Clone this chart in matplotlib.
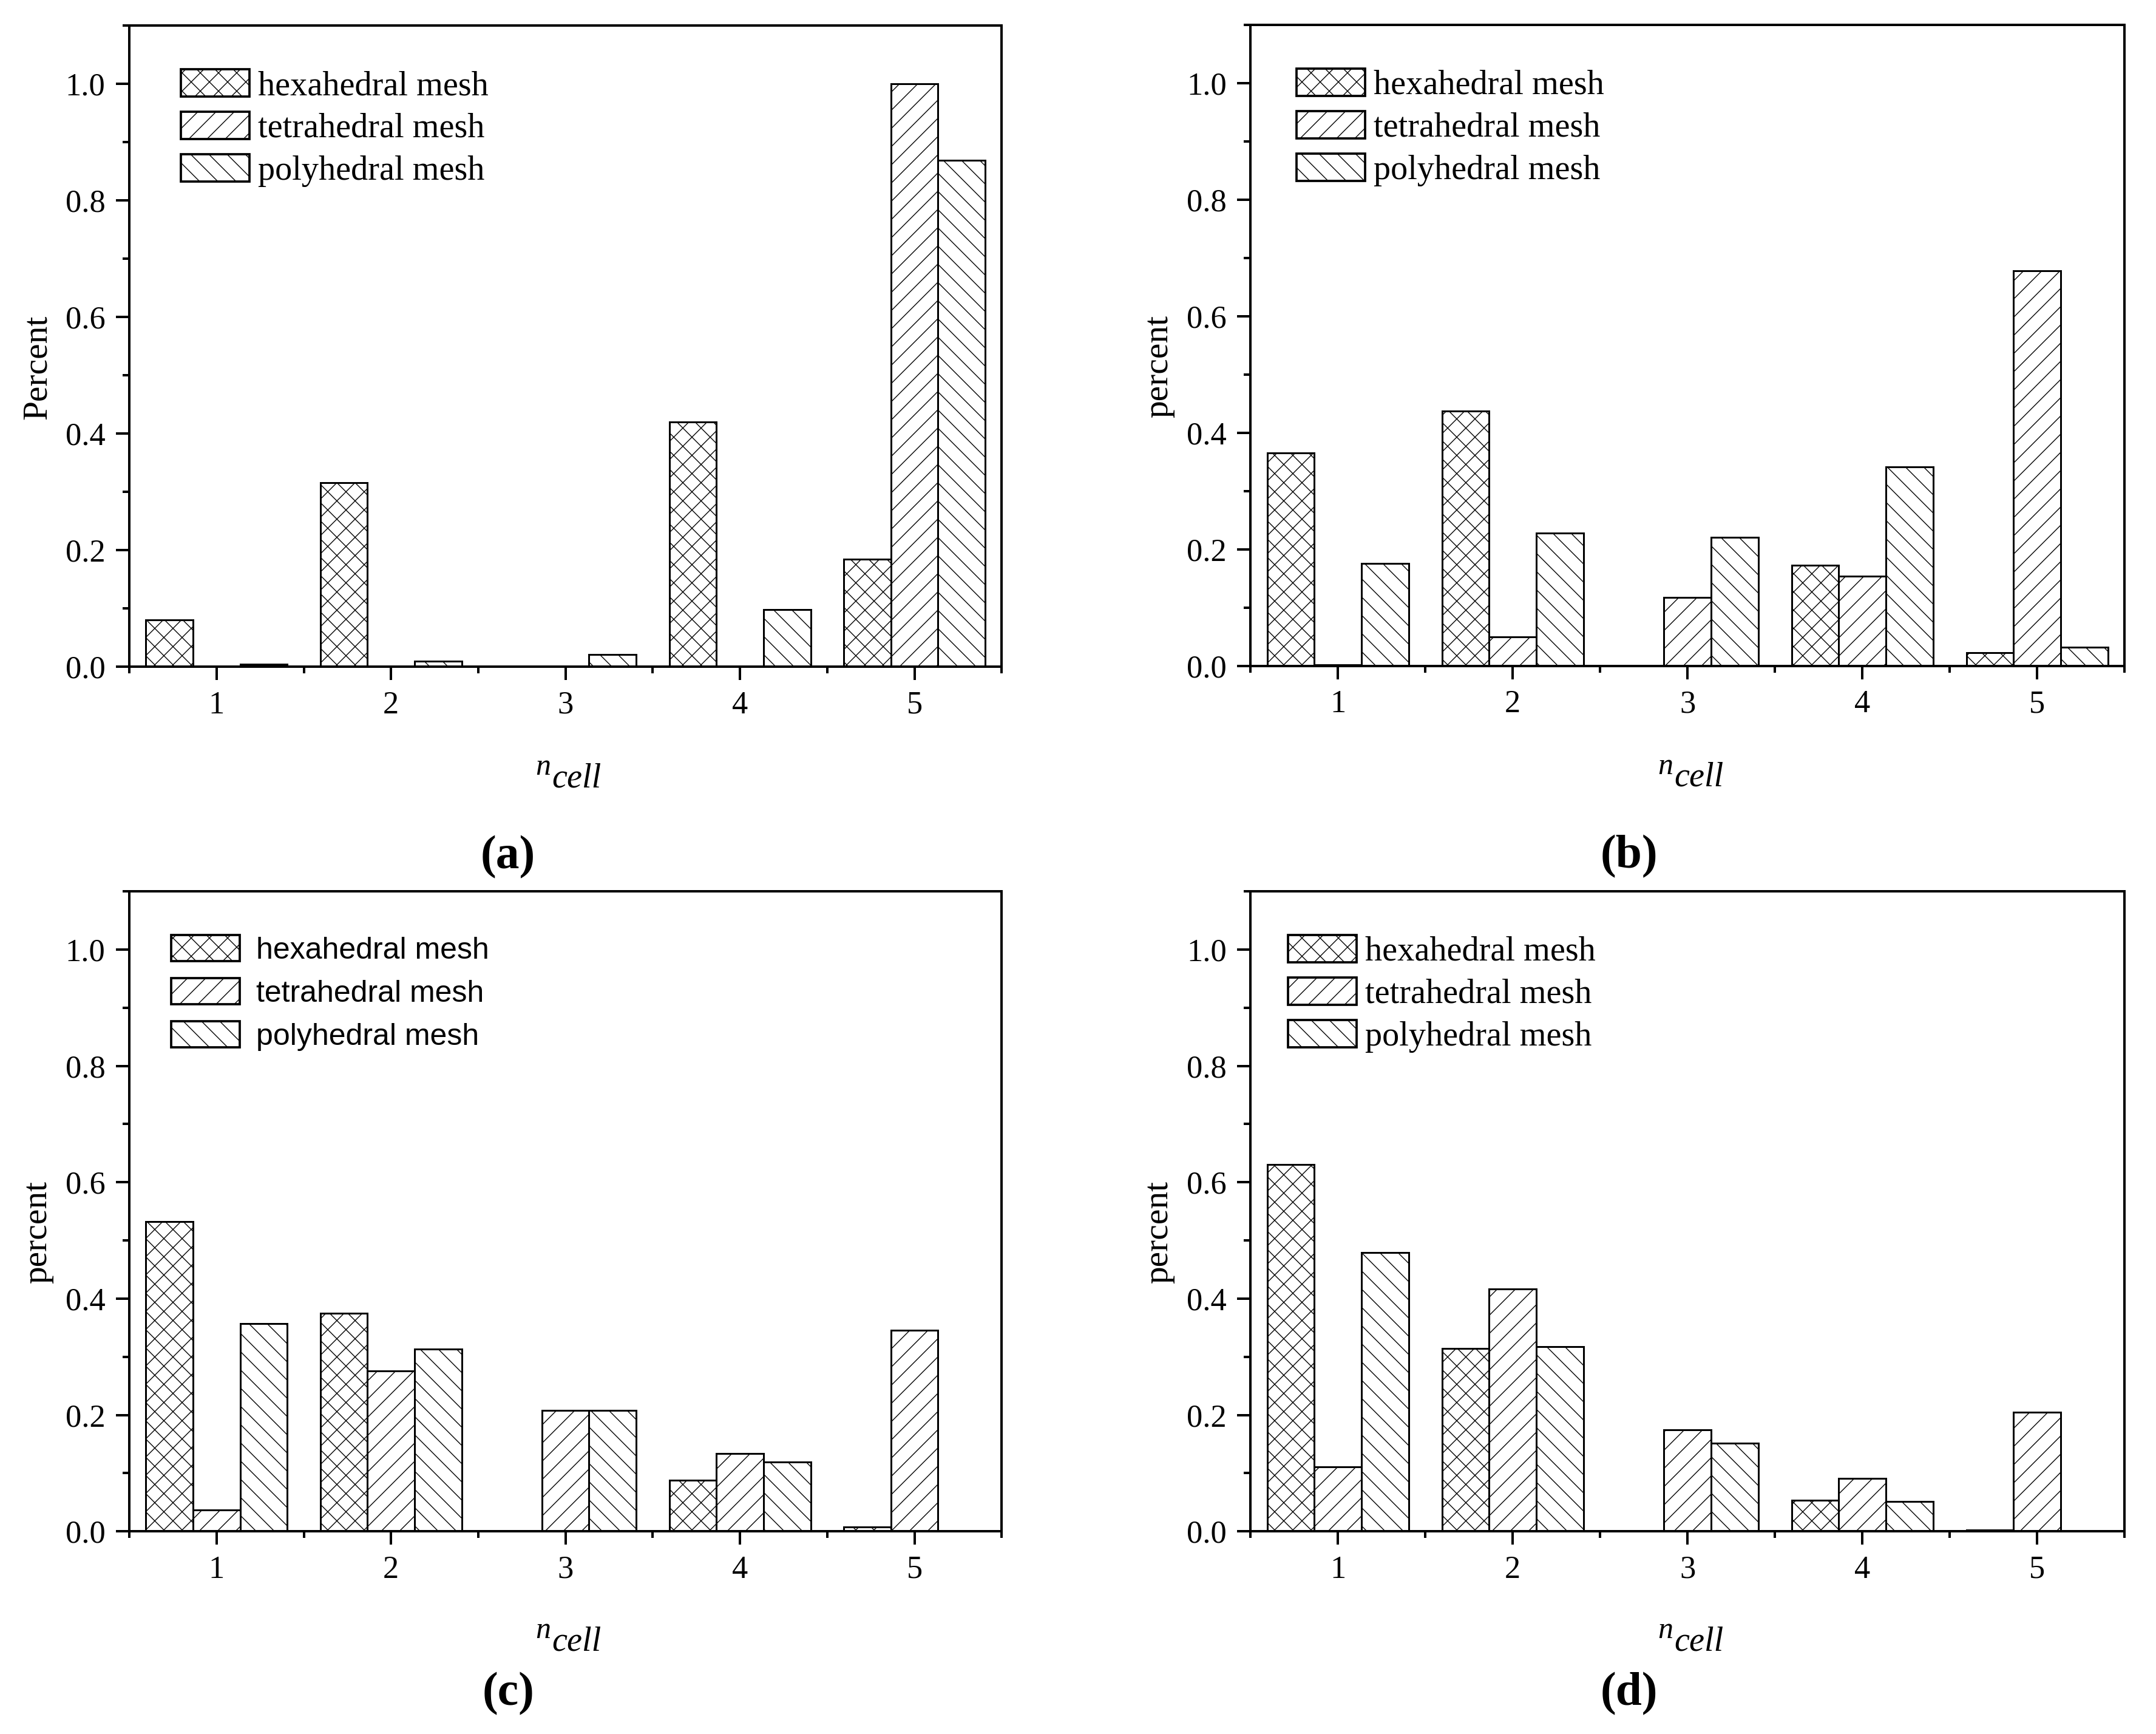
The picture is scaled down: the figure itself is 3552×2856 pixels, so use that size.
# Distribution of n_cell for three mesh types, four cases (a)-(d)

import numpy as np
import matplotlib.pyplot as plt
from matplotlib.ticker import MultipleLocator, FormatStrFormatter

plt.rcParams['font.family'] = ['Liberation Serif', 'DejaVu Serif']
plt.rcParams['hatch.linewidth'] = 0.55

# Data
ncell = np.array([1, 2, 3, 4, 5])
mesh_names = ['hexahedral mesh', 'tetrahedral mesh', 'polyhedral mesh']

a_hex = [0.080, 0.316, 0.0, 0.420, 0.185]
a_tet = [0.0, 0.0, 0.0, 0.0, 1.0]
a_poly = [0.004, 0.010, 0.021, 0.098, 0.869]

b_hex = [0.366, 0.438, 0.0, 0.173, 0.023]
b_tet = [0.002, 0.050, 0.118, 0.154, 0.678]
b_poly = [0.176, 0.228, 0.221, 0.342, 0.032]

c_hex = [0.532, 0.375, 0.0, 0.088, 0.007]
c_tet = [0.037, 0.276, 0.208, 0.134, 0.346]
c_poly = [0.357, 0.313, 0.208, 0.119, 0.0]

d_hex = [0.631, 0.314, 0.0, 0.053, 0.002]
d_tet = [0.111, 0.417, 0.174, 0.091, 0.205]
d_poly = [0.479, 0.317, 0.152, 0.051, 0.0]

# tag, ylabel, series, legend font, axes rect, legend x, legend size, text pad (px), row gap (px)
panels = [
    ('(a)', 'Percent', [a_hex, a_tet, a_poly], 'Liberation Serif', [0.06, 0.6155, 0.4046, 0.3697], 0.059, 22.5, 14, 16),
    ('(b)', 'percent', [b_hex, b_tet, b_poly], 'Liberation Serif', [0.58, 0.6159, 0.4054, 0.3697], 0.053, 22.5, 14, 16),
    ('(c)', 'percent', [c_hex, c_tet, c_poly], 'Liberation Sans', [0.06, 0.1169, 0.4046, 0.369], 0.048, 20, 27, 22),
    ('(d)', 'percent', [d_hex, d_tet, d_poly], 'Liberation Serif', [0.58, 0.1169, 0.4054, 0.369], 0.043, 22.5, 14, 16),
]

hatches = ['xx', '//', '\\\\']
width = 0.27
offsets = [-width, 0.0, width]

fig = plt.figure(figsize=(3552/180, 2856/180), dpi=180, facecolor='white')

for k, (tag, ylab, series, legfont, rect, legx, legsize, tpad, rgap) in enumerate(panels):
    ax = fig.add_axes(rect)
    for vals, h, off, name in zip(series, hatches, offsets, mesh_names):
        ax.bar(ncell + off, vals, width, color='white', edgecolor='black',
               linewidth=1.2, hatch=h, label=name)

    ax.set_xlim(0.5, 5.5)
    ax.set_xticks(ncell)
    ax.xaxis.set_minor_locator(MultipleLocator(0.5))
    ax.yaxis.set_major_locator(MultipleLocator(0.2))
    ax.yaxis.set_minor_locator(MultipleLocator(0.1))
    ax.yaxis.set_major_formatter(FormatStrFormatter('%.1f'))
    ax.set_ylim(0, 1.1)
    for s in ax.spines.values():
        s.set_linewidth(1.6)
    ax.tick_params(which='major', direction='out', length=8.8, width=1.6,
                   labelsize=21, pad=7)
    ax.tick_params(which='minor', direction='out', length=4.4, width=1.6)

    ax.set_ylabel(ylab, fontsize=23)
    ax.yaxis.set_label_coords(-0.087, 0.467)

    # x label: n_cell, Origin style
    top = k < 2
    dy = 178 if top else 176
    ax.annotate('n', xy=(0.5, 0), xycoords='axes fraction',
                xytext=(-24, -dy), textcoords='offset pixels',
                ha='right', va='baseline', fontsize=20, style='italic')
    ax.annotate('cell', xy=(0.5, 0), xycoords='axes fraction',
                xytext=(-22, -dy - 20), textcoords='offset pixels',
                ha='left', va='baseline', fontsize=22.5, style='italic')

    # panel letter
    ax.annotate(tag, xy=(0, 0), xycoords='axes fraction',
                xytext=(624, -332 if top else -286), textcoords='offset pixels',
                ha='center', va='baseline', fontsize=31, fontweight='bold')

    em = legsize * 2.5  # font size in pixels at 180 dpi
    leg = ax.legend(loc='upper left', bbox_to_anchor=(legx, 0.932),
                    frameon=False, borderpad=0, borderaxespad=0,
                    handlelength=113 / em, handleheight=48 / em,
                    handletextpad=tpad / em, labelspacing=rgap / em,
                    prop={'family': legfont, 'size': legsize})
    for p in leg.get_patches():
        p.set_linewidth(1.5)

fig.savefig('out.png', dpi=180, facecolor='white')
